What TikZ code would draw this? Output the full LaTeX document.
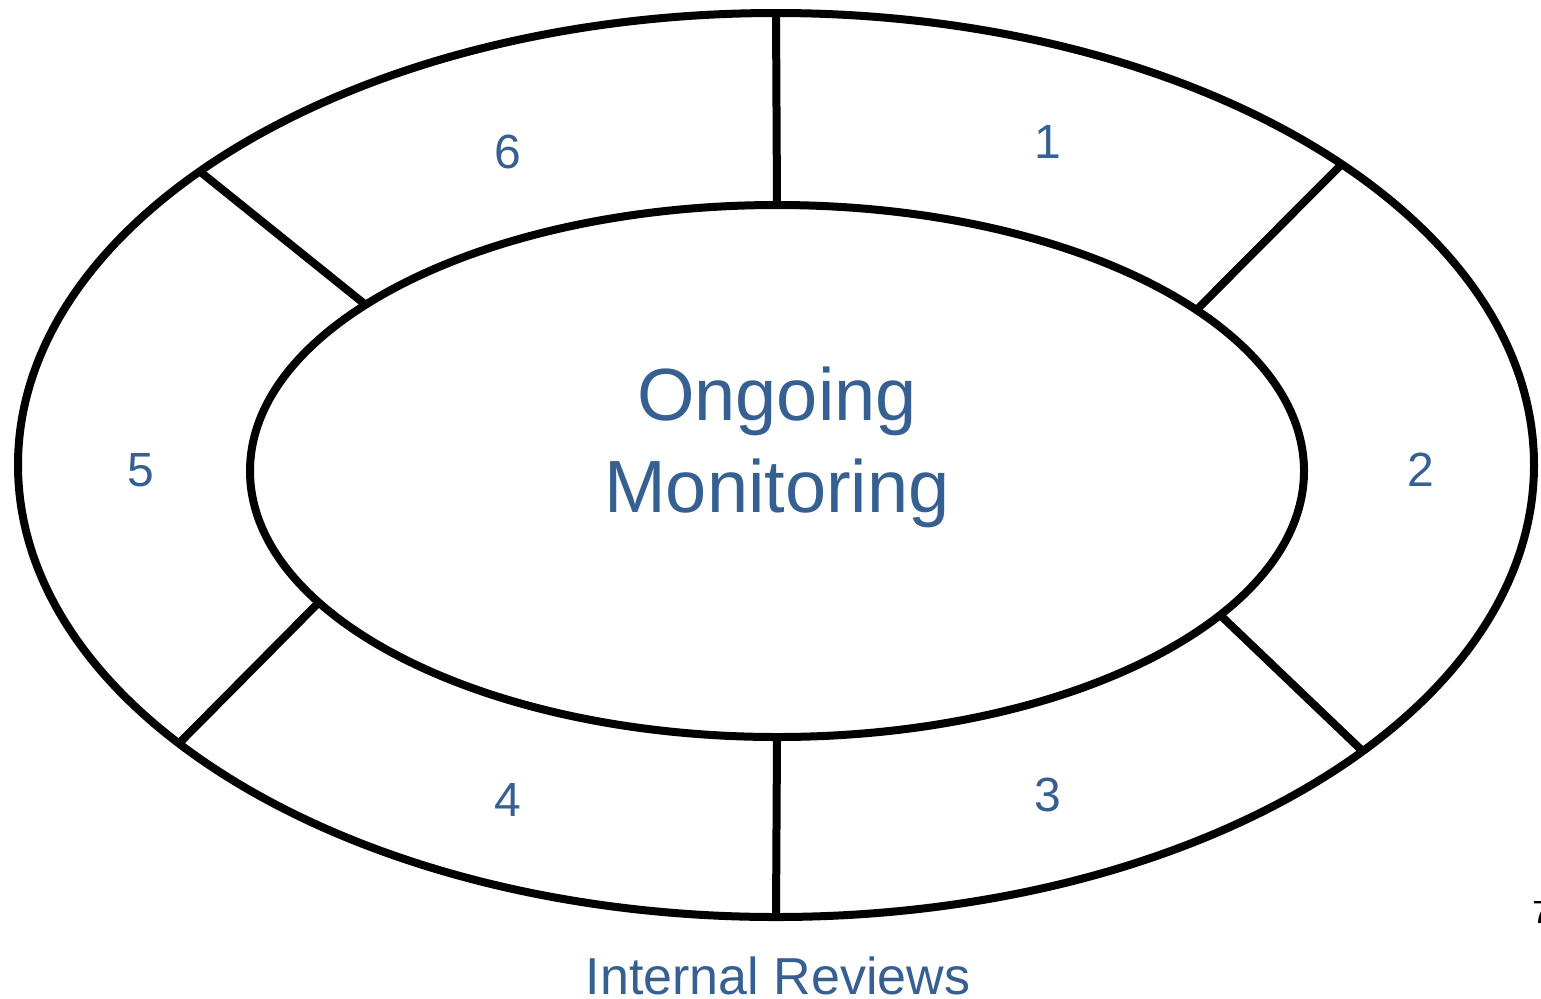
\documentclass[tikz,border=0pt]{standalone}
\usepackage{fontspec}
\setmainfont{Liberation Sans}
\usetikzlibrary{shapes.geometric, positioning}
\definecolor{labelblue}{RGB}{54,96,146}

\begin{document}
\begin{tikzpicture}[
        x=0.5pt, y=-0.5pt,
        ring/.style={ellipse, draw=black, line width=4pt, inner sep=0pt, outer sep=0pt},
        spoke/.style={draw=black, line width=4pt},
        num/.style={text=labelblue, inner sep=0pt, font=\fontsize{24}{28}\selectfont},
        title/.style={text=labelblue, align=center, inner sep=0pt, font=\fontsize{37}{46}\selectfont}
    ]
        \useasboundingbox (0,0) rectangle (1541,998);

        \node[ring, minimum width=758pt, minimum height=452pt] (outer) at (776,465) {};
        \node[ring, minimum width=527pt, minimum height=266pt] (inner) at (777,471) {};
        \node[title] (monitor) at (777,447) {Ongoing\\Monitoring};

        \draw[spoke] (inner.north) -- (outer.north);
        \draw[spoke] (inner.21.6) -- (outer.28);
        \draw[spoke] (inner.-18.6) -- (outer.-26.6);
        \draw[spoke] (inner.south) -- (outer.south);
        \draw[spoke] (inner.196.4) -- (outer.205.3);
        \draw[spoke] (inner.158.2) -- (outer.153.3);

        \node[num] (s1) at (1048,142) {1};
        \node[num] (s2) at (1421,470) {2};
        \node[num] (s3) at (1048,795) {3};
        \node[num] (s4) at (508,800) {4};
        \node[num] (s5) at (141,470) {5};
        \node[num] (s6) at (508,152) {6};

        \node[text=labelblue, inner sep=0pt, font=\fontsize{26}{30}\selectfont] (reviews) at (778,976) {Internal Reviews};
        \node[anchor=base west, inner sep=0pt, font=\fontsize{16}{18}\selectfont] (seven) at (1532,923) {7};
    \end{tikzpicture}
\end{document}
